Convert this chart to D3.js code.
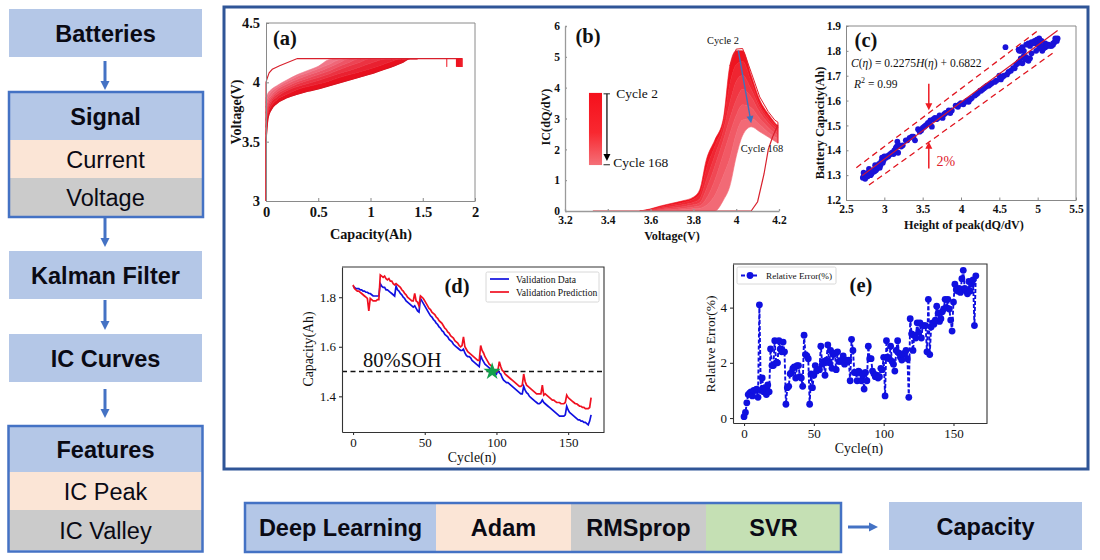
<!DOCTYPE html>
<html>
<head>
<meta charset="utf-8">
<script src="https://cdn.jsdelivr.net/npm/d3@7"></script>
<style>
  html, body { margin: 0; padding: 0; background: #fff; }
  svg { display: block; }
</style>
</head>
<body>
<div id="chart"></div>
<script>
// flow diagram labels
var batteriesLabel = "Batteries";
var signalLabels = ["Signal", "Current", "Voltage"];
var kalmanLabel = "Kalman Filter";
var curvesLabel = "IC Curves";
var featureLabels = ["Features", "IC Peak", "IC Valley"];
var methodLabels = ["Deep Learning", "Adam", "RMSprop", "SVR"];
var outputLabel = "Capacity";

// (a) charge curves, voltage read at each capacity
var capacityGrid = [0, 0.02, 0.05, 0.1, 0.2, 0.3, 0.4, 0.5, 0.6, 0.7, 0.8, 0.9, 1.0, 1.1, 1.2, 1.3, 1.38, 1.45];
var voltageCycle2 =   [3.50, 3.70, 3.77, 3.82, 3.87, 3.90, 3.925, 3.945, 3.97, 3.995, 4.02, 4.045, 4.07, 4.10, 4.13, 4.165, 4.2, 4.2];
var voltageCycle25 =  [3.56, 3.73, 3.80, 3.85, 3.90, 3.94, 3.965, 3.985, 4.01, 4.04, 4.065, 4.09, 4.115, 4.145, 4.175, 4.2, 4.2, 4.2];
var voltageCycle50 =  [3.62, 3.76, 3.83, 3.875, 3.93, 3.965, 3.99, 4.015, 4.045, 4.075, 4.10, 4.13, 4.16, 4.19, 4.2, 4.2, 4.2, 4.2];
var voltageCycle75 =  [3.68, 3.79, 3.85, 3.895, 3.945, 3.985, 4.015, 4.04, 4.07, 4.105, 4.14, 4.17, 4.2, 4.2, 4.2, 4.2, 4.2, 4.2];
var voltageCycle100 = [3.74, 3.82, 3.87, 3.915, 3.965, 4.005, 4.035, 4.065, 4.095, 4.135, 4.17, 4.2, 4.2, 4.2, 4.2, 4.2, 4.2, 4.2];
var voltageCycle125 = [3.79, 3.85, 3.89, 3.935, 3.985, 4.025, 4.06, 4.09, 4.125, 4.165, 4.2, 4.2, 4.2, 4.2, 4.2, 4.2, 4.2, 4.2];
var voltageCycle150 = [3.83, 3.88, 3.92, 3.955, 4.005, 4.05, 4.08, 4.115, 4.15, 4.19, 4.2, 4.2, 4.2, 4.2, 4.2, 4.2, 4.2, 4.2];
var voltageCycle168 = [3.87, 3.91, 3.94, 3.97, 4.02, 4.065, 4.10, 4.135, 4.19, 4.2, 4.2, 4.2, 4.2, 4.2, 4.2, 4.2, 4.2, 4.2];
var firstCycleCap = [0, 0, 0.01, 0.03, 0.06, 0.13, 0.3, 1.88];
var firstCycleVolt = [3, 4.0, 4.03, 4.08, 4.11, 4.14, 4.2, 4.2];
var startCap = [0, 0];
var startVolt = [3, 3.5];
var cycleEndCap = [1.73, 1.825, 1.835, 1.845, 1.855, 1.865, 1.875];

// (b) IC curves, read at each voltage
var voltageGrid = [3.55, 3.6, 3.65, 3.7, 3.75, 3.8, 3.83, 3.86, 3.9, 3.94, 3.97, 4.0, 4.03, 4.07, 4.11, 4.15, 4.195];
var icCycle2 =   [0, 0.07, 0.17, 0.25, 0.33, 0.45, 0.7, 1.65, 2.3, 3.0, 4.7, 5.2, 5.2, 4.4, 3.6, 3.15, 2.75];
var icCycle30 =  [0, 0.05, 0.14, 0.2, 0.27, 0.38, 0.55, 1.35, 2.1, 2.85, 4.1, 4.75, 4.85, 4.2, 3.45, 3.05, 2.7];
var icCycle60 =  [0, 0.03, 0.1, 0.15, 0.2, 0.28, 0.4, 1.0, 1.8, 2.6, 3.5, 4.2, 4.4, 3.95, 3.35, 2.95, 2.65];
var icCycle90 =  [0, 0.01, 0.06, 0.1, 0.14, 0.2, 0.27, 0.7, 1.45, 2.3, 3.0, 3.6, 3.95, 3.7, 3.2, 2.85, 2.55];
var icCycle120 = [0, 0, 0.03, 0.05, 0.08, 0.13, 0.17, 0.4, 1.0, 1.85, 2.5, 3.1, 3.45, 3.35, 3.0, 2.7, 2.45];
var icCycle150 = [0, 0, 0.01, 0.02, 0.04, 0.07, 0.09, 0.18, 0.5, 1.15, 1.7, 2.5, 2.95, 3.0, 2.8, 2.55, 2.35];
var icCycle168 = [0, 0, 0, 0, 0, 0, 0, 0, 0, 0.35, 0.8, 1.76, 2.45, 2.73, 2.57, 2.4, 2.2];
var outlineVolt = [3.97, 4.0, 4.03, 4.07, 4.11, 4.15, 4.18, 4.195, 4.195];
var outlineIC = [4.7, 5.25, 5.27, 4.5, 3.7, 3.22, 2.95, 2.88, 2.2];
var lowCycleVolt = [3.33, 4.07, 4.1, 4.13, 4.15, 4.17, 4.195];
var lowCycleIC = [0, 0, 0.3, 1.2, 2.0, 2.4, 2.8];

// (c) capacity against height of the IC peak
var peakHeight = [2.72, 2.73, 2.74, 2.76, 2.78, 2.8, 2.8, 2.82, 2.84, 2.86, 2.87, 2.88, 2.9, 2.92, 2.93, 2.95, 2.96, 2.97, 2.99, 3.0,
  3.03, 3.06, 3.1, 3.13, 3.15, 3.17, 3.18, 3.2, 3.24, 3.28, 3.33, 3.36, 3.4, 3.44, 3.48, 3.5, 3.54, 3.57, 3.6, 3.62,
  3.64, 3.68, 3.72, 3.76, 3.8, 3.84, 3.88, 3.93, 3.96, 4.0, 4.03, 4.08, 4.1, 4.14, 4.18, 4.22, 4.25, 4.28, 4.32, 4.36,
  4.4, 4.44, 4.5, 4.52, 4.56, 4.6, 4.58, 4.65, 4.68, 4.72, 4.75, 4.78, 4.8, 4.82, 4.85, 4.9, 4.88, 4.75, 4.78, 4.8,
  4.82, 4.85, 4.88, 4.92, 4.96, 5.02, 5.05, 4.92, 4.98, 5.02, 5.06, 5.1, 5.14, 5.18, 5.1, 5.2, 5.23, 5.25, 5.26, 5.22, 5.0,
  2.73, 2.75, 2.77, 2.79, 2.81, 2.83, 2.85, 2.89, 2.91, 2.94, 2.98, 3.02, 3.05, 3.08, 3.12, 3.16, 3.22, 3.3, 3.38, 3.46,
  3.52, 3.56, 3.59, 3.66, 3.7, 3.78, 3.86, 3.98, 4.06, 4.12, 4.2, 4.26, 4.3, 4.34, 4.38, 4.46, 4.54, 4.62, 4.7, 4.74,
  4.84, 4.76, 4.79, 4.9, 4.94, 4.99, 5.03, 5.08, 5.12, 5.16, 5.2, 5.04, 5.24];
var peakCapacity = [1.29, 1.31, 1.29, 1.30, 1.295, 1.305, 1.325, 1.30, 1.31, 1.32, 1.315, 1.34, 1.325, 1.33, 1.345, 1.34, 1.355, 1.37, 1.36, 1.375,
  1.375, 1.38, 1.39, 1.40, 1.41, 1.435, 1.39, 1.42, 1.42, 1.44, 1.45, 1.455, 1.44, 1.485, 1.48, 1.49, 1.50, 1.51, 1.52, 1.495,
  1.525, 1.525, 1.54, 1.53, 1.55, 1.56, 1.56, 1.58, 1.575, 1.59, 1.585, 1.60, 1.595, 1.61, 1.62, 1.63, 1.64, 1.645, 1.655, 1.66,
  1.67, 1.675, 1.70, 1.685, 1.70, 1.705, 1.815, 1.72, 1.73, 1.745, 1.755, 1.77, 1.75, 1.78, 1.775, 1.77, 1.76, 1.805, 1.80, 1.815,
  1.80, 1.825, 1.83, 1.835, 1.84, 1.85, 1.84, 1.79, 1.80, 1.81, 1.80, 1.815, 1.825, 1.82, 1.83, 1.825, 1.85, 1.84, 1.85, 1.835, 1.825,
  1.295, 1.285, 1.30, 1.31, 1.31, 1.305, 1.315, 1.32, 1.335, 1.33, 1.35, 1.37, 1.375, 1.385, 1.385, 1.415, 1.415, 1.44, 1.455, 1.475,
  1.495, 1.505, 1.51, 1.53, 1.53, 1.545, 1.55, 1.585, 1.595, 1.605, 1.625, 1.64, 1.65, 1.66, 1.665, 1.68, 1.695, 1.715, 1.73, 1.75,
  1.765, 1.80, 1.81, 1.82, 1.83, 1.845, 1.84, 1.81, 1.82, 1.82, 1.83, 1.82, 1.845];
var fitHeight = [2.71, 5.26];
var fitCapacity = [1.298, 1.882];
var upperHeight = [2.635, 5.01];
var upperCapacity = [1.33, 1.883];
var lowerHeight = [2.8, 5.22];
var lowerCapacity = [1.26, 1.796];

// (d) validation, one value per cycle from 0
var validationData = [1.845, 1.84, 1.835, 1.835, 1.835, 1.83, 1.83, 1.825, 1.825, 1.82, 1.82, 1.815, 1.815, 1.81, 1.805, 1.805, 1.805, 1.805, 1.805, 1.855,
  1.845, 1.84, 1.84, 1.83, 1.83, 1.825, 1.82, 1.815, 1.81, 1.805, 1.845, 1.83, 1.825, 1.815, 1.81, 1.80, 1.795, 1.785, 1.78, 1.775,
  1.77, 1.765, 1.76, 1.765, 1.755, 1.745, 1.74, 1.795, 1.785, 1.775, 1.765, 1.755, 1.745, 1.735, 1.725, 1.72, 1.71, 1.705, 1.695, 1.69,
  1.68, 1.675, 1.665, 1.66, 1.65, 1.645, 1.64, 1.63, 1.625, 1.62, 1.61, 1.605, 1.60, 1.595, 1.59, 1.585, 1.585, 1.59, 1.575, 1.565,
  1.56, 1.56, 1.555, 1.545, 1.54, 1.535, 1.53, 1.525, 1.52, 1.565, 1.55, 1.54, 1.53, 1.525, 1.52, 1.515, 1.51, 1.505, 1.50, 1.495,
  1.49, 1.505, 1.495, 1.49, 1.475, 1.465, 1.46, 1.455, 1.455, 1.45, 1.445, 1.44, 1.435, 1.43, 1.425, 1.42, 1.415, 1.41, 1.41, 1.44,
  1.425, 1.415, 1.41, 1.40, 1.395, 1.39, 1.385, 1.38, 1.375, 1.37, 1.37, 1.375, 1.385, 1.375, 1.37, 1.365, 1.36, 1.355, 1.35, 1.345,
  1.34, 1.335, 1.33, 1.325, 1.32, 1.32, 1.32, 1.32, 1.325, 1.36, 1.345, 1.335, 1.33, 1.325, 1.32, 1.315, 1.31, 1.305, 1.305, 1.30,
  1.30, 1.295, 1.295, 1.29, 1.285, 1.30, 1.325];
var validationPrediction = [1.85, 1.835, 1.83, 1.825, 1.825, 1.82, 1.815, 1.81, 1.805, 1.80, 1.795, 1.745, 1.795, 1.79, 1.785, 1.785, 1.785, 1.79, 1.79, 1.89,
  1.885, 1.88, 1.885, 1.875, 1.87, 1.875, 1.865, 1.865, 1.855, 1.85, 1.855, 1.85, 1.845, 1.84, 1.83, 1.825, 1.815, 1.81, 1.80, 1.795,
  1.79, 1.785, 1.785, 1.815, 1.785, 1.78, 1.765, 1.805, 1.80, 1.795, 1.785, 1.775, 1.765, 1.755, 1.75, 1.74, 1.735, 1.73, 1.72, 1.715,
  1.705, 1.70, 1.695, 1.685, 1.675, 1.67, 1.66, 1.655, 1.645, 1.64, 1.635, 1.625, 1.62, 1.615, 1.605, 1.60, 1.605, 1.64, 1.60, 1.59,
  1.58, 1.575, 1.57, 1.565, 1.56, 1.555, 1.55, 1.545, 1.545, 1.605, 1.585, 1.575, 1.56, 1.55, 1.54, 1.53, 1.525, 1.52, 1.51, 1.505,
  1.50, 1.505, 1.54, 1.52, 1.505, 1.50, 1.49, 1.485, 1.48, 1.475, 1.47, 1.465, 1.46, 1.455, 1.45, 1.445, 1.44, 1.44, 1.445, 1.49,
  1.46, 1.445, 1.44, 1.435, 1.43, 1.425, 1.42, 1.415, 1.41, 1.41, 1.41, 1.41, 1.445, 1.405, 1.41, 1.405, 1.40, 1.395, 1.39, 1.385,
  1.385, 1.38, 1.375, 1.375, 1.375, 1.37, 1.37, 1.37, 1.375, 1.405, 1.395, 1.39, 1.385, 1.38, 1.375, 1.37, 1.37, 1.365, 1.36, 1.36,
  1.355, 1.355, 1.35, 1.35, 1.35, 1.355, 1.395];
var sohLevel = 1.5;
var sohCycle = 97;

// (e) relative error, one value per cycle from 0
var relativeError = [0.05, 0.2, 0.55, 0.85, 0.9, 0.95, 0.8, 1.0, 1.0, 1.05, 0.75, 4.1, 1.0, 1.45, 0.95, 1.1, 0.85, 1.2, 0.95, 2.5,
  1.9, 1.9, 2.8, 2.0, 2.0, 2.8, 2.5, 2.4, 2.75, 2.4, 0.5, 1.1, 1.15, 1.6, 1.65, 1.8, 1.85, 1.45, 1.9, 1.9,
  1.5, 1.45, 1.15, 3.0, 2.3, 2.25, 2.15, 0.5, 1.6, 1.1, 1.55, 1.9, 1.7, 1.75, 1.75, 2.6, 1.95, 2.05, 1.55, 2.1,
  2.65, 2.0, 2.45, 1.8, 2.3, 2.35, 1.75, 2.4, 2.05, 2.05, 2.1, 2.25, 1.95, 2.1, 2.05, 2.1, 1.35, 2.85, 2.45,
  1.65, 1.65, 1.35, 1.7, 1.65, 1.35, 1.55, 1.05, 1.65, 1.35, 2.6, 2.15, 2.15, 1.7, 1.6, 1.5, 1.55, 1.45, 1.5, 1.8, 1.75,
  2.2, 0.8, 2.8, 2.2, 2.15, 2.6, 2.05, 1.95, 1.7, 2.45, 2.8, 2.35, 2.2, 2.1, 2.3, 2.35, 2.45, 2.15, 0.75, 3.6,
  3.05, 2.45, 3.0, 2.9, 3.45, 3.1, 3.45, 2.9, 3.35, 3.35, 3.35, 2.4, 4.3, 2.3, 3.3, 3.45, 3.4, 3.55, 4.05, 3.8,
  3.5, 3.6, 3.85, 3.95, 4.3, 4.0, 4.3, 3.95, 3.55, 3.15, 4.2, 4.85, 4.65, 4.6, 4.7, 4.55, 5.05, 5.35, 4.7, 4.6,
  4.5, 4.95, 4.6, 4.85, 5.0, 3.35, 5.15];

var width = 1100;
var height = 560;
var sansFont = "'Liberation Sans', Arial, sans-serif";
var serifFont = "'Liberation Serif', 'Times New Roman', serif";

var svg = d3.select("#chart").append("svg")
  .attr("width", width)
  .attr("height", height)
  .style("background", "#fff");

var defs = svg.append("defs");

function addText(parent, x, y, str, size, opts) {
  opts = opts || {};
  var t = parent.append("text")
    .attr("x", x)
    .attr("y", y)
    .attr("font-family", opts.family || serifFont)
    .attr("font-size", size)
    .attr("font-weight", opts.weight || "normal")
    .attr("font-style", opts.style || "normal")
    .attr("fill", opts.fill || "#111")
    .attr("text-anchor", opts.anchor || "middle")
    .text(str);
  if (opts.rotate) t.attr("transform", "rotate(-90," + x + "," + y + ")");
  return t;
}

// ---------- flow boxes ----------
var flowBlue = "#b4c7e7";
var flowPeach = "#fbe5d6";
var flowGrey = "#cbcbcb";
var flowGreen = "#c5e0b4";
var frameBlue = "#4472c4";

function flowBox(x, y, w, h, fill, label, bold) {
  svg.append("rect").attr("x", x).attr("y", y).attr("width", w).attr("height", h).attr("fill", fill);
  addText(svg, x + w / 2, y + h / 2 + 8.5, label, 23.5, {family: sansFont, weight: bold ? "bold" : "normal", fill: "#0a0a14"});
}

function flowFrame(x, y, w, h) {
  svg.append("rect").attr("x", x).attr("y", y).attr("width", w).attr("height", h)
    .attr("fill", "none").attr("stroke", frameBlue).attr("stroke-width", 2.5);
}

function flowArrow(x1, y1, x2, y2) {
  var horizontal = y1 === y2;
  svg.append("line").attr("x1", x1).attr("y1", y1)
    .attr("x2", horizontal ? x2 - 6 : x2).attr("y2", horizontal ? y2 : y2 - 6)
    .attr("stroke", frameBlue).attr("stroke-width", 3);
  var head = horizontal
    ? [[x2, y2], [x2 - 9, y2 - 4.5], [x2 - 9, y2 + 4.5]]
    : [[x2, y2], [x2 - 4.5, y2 - 9], [x2 + 4.5, y2 - 9]];
  svg.append("path").attr("d", d3.line()(head) + "Z").attr("fill", frameBlue);
}

flowBox(9, 9, 193, 48, flowBlue, batteriesLabel, true);
flowBox(9, 92, 193, 48, flowBlue, signalLabels[0], true);
flowBox(9, 140, 193, 38, flowPeach, signalLabels[1], false);
flowBox(9, 178, 193, 39, flowGrey, signalLabels[2], false);
flowFrame(9, 92, 194, 125);
flowBox(9, 251, 193, 48, flowBlue, kalmanLabel, true);
flowBox(9, 334, 193, 48, flowBlue, curvesLabel, true);
flowBox(9, 426, 193, 46, flowBlue, featureLabels[0], true);
flowBox(9, 472, 193, 38, flowPeach, featureLabels[1], false);
flowBox(9, 510, 193, 40, flowGrey, featureLabels[2], false);
flowFrame(8.5, 426, 194, 125.5);
flowArrow(105, 61, 105, 90);
flowArrow(105, 218, 105, 247);
flowArrow(105, 300, 105, 330);
flowArrow(105, 389, 105, 418);

var methodStops = [245, 436, 571, 706, 841];
var methodFills = [flowBlue, flowPeach, flowGrey, flowGreen];
methodLabels.forEach(function(label, i) {
  flowBox(methodStops[i], 503, methodStops[i + 1] - methodStops[i], 49, methodFills[i], label, true);
});
flowFrame(245, 503, 596, 49);
flowArrow(848, 527, 878, 527);
flowBox(889, 502, 193, 48, flowBlue, outputLabel, true);

// main frame round the plots
svg.append("rect").attr("x", 224).attr("y", 7).attr("width", 864).attr("height", 462)
  .attr("fill", "none").attr("stroke", "#2f5597").attr("stroke-width", 3);

// ---------- axes helper ----------
function drawAxes(x, y, xTicks, yTicks, opts) {
  var xr = x.range(), yr = y.range();
  var tick = opts.tick;
  var gx = svg.append("g").attr("transform", "translate(0," + yr[0] + ")")
    .call(d3.axisBottom(x).tickValues(xTicks).tickSizeInner(tick).tickSizeOuter(0).tickPadding(opts.pad).tickFormat(d3.format(opts.xFormat || "")));
  var gy = svg.append("g").attr("transform", "translate(" + xr[0] + ",0)")
    .call(d3.axisLeft(y).tickValues(yTicks).tickSizeInner(tick).tickSizeOuter(0).tickPadding(opts.pad).tickFormat(d3.format(opts.yFormat || "")));
  [gx, gy].forEach(function(g) {
    g.selectAll("path,line").attr("stroke", opts.color).attr("stroke-width", opts.line || 1);
    g.selectAll("text").attr("font-family", serifFont).attr("font-size", opts.size)
      .attr("font-weight", opts.weight).attr("fill", "#111");
  });
  if (opts.box) {
    svg.append("path")
      .attr("d", "M" + xr[0] + "," + yr[1] + "H" + xr[1] + "V" + yr[0])
      .attr("fill", "none").attr("stroke", opts.color).attr("stroke-width", opts.line || 1);
  }
}

function xyLine(x, y, curve) {
  var l = d3.line().x(function(d) { return x(d[0]); }).y(function(d) { return y(d[1]); });
  return curve ? l.curve(curve) : l;
}

function bands(x, y, grid, cycles, color) {
  var area = d3.area()
    .x(function(d) { return x(d.x); })
    .y0(function(d) { return y(d.a); })
    .y1(function(d) { return y(d.b); })
    .curve(d3.curveMonotoneX);
  d3.pairs(cycles).forEach(function(p, i) {
    var rows = grid.map(function(g, k) { return {x: g, a: p[0][k], b: p[1][k]}; });
    var c = color(i / (cycles.length - 2));
    svg.append("path").attr("d", area(rows)).attr("fill", c).attr("stroke", c).attr("stroke-width", 0.6);
  });
}

function redArrow(x1, y1, x2, y2, color, w, head) {
  var a = Math.atan2(y2 - y1, x2 - x1);
  svg.append("line").attr("x1", x1).attr("y1", y1)
    .attr("x2", x2 - Math.cos(a) * head * 0.8).attr("y2", y2 - Math.sin(a) * head * 0.8)
    .attr("stroke", color).attr("stroke-width", w);
  var pts = [[x2, y2],
    [x2 - head * Math.cos(a) + head * 0.5 * Math.sin(a), y2 - head * Math.sin(a) - head * 0.5 * Math.cos(a)],
    [x2 - head * Math.cos(a) - head * 0.5 * Math.sin(a), y2 - head * Math.sin(a) + head * 0.5 * Math.cos(a)]];
  svg.append("path").attr("d", d3.line()(pts) + "Z").attr("fill", color);
}

// ---------- (a) ----------
var xA = d3.scaleLinear().domain([0, 2]).range([266, 475]);
var yA = d3.scaleLinear().domain([3, 4.5]).range([201, 23]);
var chargeColor = d3.interpolateRgb("#e8101e", "#f0788a");
bands(xA, yA, capacityGrid,
  [voltageCycle2, voltageCycle25, voltageCycle50, voltageCycle75, voltageCycle100, voltageCycle125, voltageCycle150, voltageCycle168],
  chargeColor);
svg.append("path").attr("d", xyLine(xA, yA, d3.curveMonotoneX)(d3.zip(capacityGrid, voltageCycle2)))
  .attr("fill", "none").attr("stroke", "#d81420").attr("stroke-width", 1.2);
svg.append("path").attr("d", xyLine(xA, yA)(d3.zip(firstCycleCap, firstCycleVolt)))
  .attr("fill", "none").attr("stroke", "#d8202c").attr("stroke-width", 1.1);
svg.append("path").attr("d", xyLine(xA, yA)(d3.zip(startCap, startVolt)))
  .attr("fill", "none").attr("stroke", "#d8202c").attr("stroke-width", 1.4);
svg.selectAll(".cycle-end").data(cycleEndCap).enter().append("line")
  .attr("class", "cycle-end")
  .attr("x1", function(d) { return xA(d); })
  .attr("x2", function(d) { return xA(d); })
  .attr("y1", yA(4.2))
  .attr("y2", yA(4.13))
  .attr("stroke", "#ee1420")
  .attr("stroke-width", function(d, i) { return i === 0 ? 1 : 1.6; });
drawAxes(xA, yA, [0, 0.5, 1, 1.5, 2], [3, 3.5, 4, 4.5], {tick: -3, pad: 6, color: "#8a8a8a", box: true, size: 14.5, weight: "bold"});
addText(svg, 371, 239, "Capacity(Ah)", 14.2, {weight: "bold"});
addText(svg, 241, 112, "Voltage(V)", 14.2, {weight: "bold", rotate: true});
addText(svg, 285, 45, "(a)", 20.5, {weight: "bold"});

// ---------- (b) ----------
var xB = d3.scaleLinear().domain([3.2, 4.2]).range([565, 779]);
var yB = d3.scaleLinear().domain([0, 6]).range([211, 26]);
var icColor = d3.interpolateRgb("#ee1420", "#f26a76");
bands(xB, yB, voltageGrid, [icCycle2, icCycle30, icCycle60, icCycle90, icCycle120, icCycle150, icCycle168], icColor);
svg.append("path").attr("d", xyLine(xB, yB)(d3.zip(outlineVolt, outlineIC)))
  .attr("fill", "none").attr("stroke", "#e0202c").attr("stroke-width", 1);
svg.append("path").attr("d", xyLine(xB, yB)(d3.zip(lowCycleVolt, lowCycleIC)))
  .attr("fill", "none").attr("stroke", "#d8202c").attr("stroke-width", 1.2);
drawAxes(xB, yB, [3.2, 3.4, 3.6, 3.8, 4, 4.2], [0, 1, 2, 3, 4, 5, 6], {tick: -2, pad: 5, color: "#9a9a9a", size: 11.5, weight: "bold", line: 1.3});
addText(svg, 672, 240, "Voltage(V)", 12.2, {weight: "bold"});
addText(svg, 550, 117, "IC(dQ/dV)", 12.2, {weight: "bold", rotate: true});
addText(svg, 588, 43, "(b)", 20.5, {weight: "bold"});

var colorBar = defs.append("linearGradient").attr("id", "cycleBar").attr("x1", 0).attr("x2", 0).attr("y1", 0).attr("y2", 1);
colorBar.append("stop").attr("offset", "0%").attr("stop-color", "#f5101c");
colorBar.append("stop").attr("offset", "55%").attr("stop-color", "#f82830");
colorBar.append("stop").attr("offset", "100%").attr("stop-color", "#f47078");
svg.append("rect")
  .attr("x", xB(3.312)).attr("y", yB(3.83))
  .attr("width", xB(3.373) - xB(3.312))
  .attr("height", yB(1.49) - yB(3.83))
  .attr("fill", "url(#cycleBar)");
redArrow(xB(3.396), yB(3.8), xB(3.396), yB(1.62), "#000", 1.2, 7);
svg.append("line").attr("x1", xB(3.38)).attr("x2", xB(3.41)).attr("y1", yB(3.8)).attr("y2", yB(3.8)).attr("stroke", "#222");
svg.append("line").attr("x1", xB(3.38)).attr("x2", xB(3.41)).attr("y1", yB(1.5)).attr("y2", yB(1.5)).attr("stroke", "#222");
addText(svg, xB(3.44), 98, "Cycle 2", 13.5, {anchor: "start"});
addText(svg, xB(3.425), 167, "Cycle 168", 13.5, {anchor: "start"});
addText(svg, 723, 44, "Cycle 2", 10.4);
addText(svg, 762, 152, "Cycle 168", 10.4);
redArrow(xB(4.01), yB(5.2), xB(4.07), yB(2.85), "#3f72bd", 1.4, 7);

// ---------- (c) ----------
var xC = d3.scaleLinear().domain([2.5, 5.5]).range([846, 1076]);
var yC = d3.scaleLinear().domain([1.2, 1.9]).range([200, 26]);
svg.selectAll(".peak").data(d3.zip(peakHeight, peakCapacity)).enter().append("circle")
  .attr("class", "peak")
  .attr("cx", function(d) { return xC(d[0]); })
  .attr("cy", function(d) { return yC(d[1]); })
  .attr("r", 2.9)
  .attr("fill", "#1a12d8");
svg.append("path").attr("d", xyLine(xC, yC)(d3.zip(fitHeight, fitCapacity)))
  .attr("stroke", "#d8182c").attr("stroke-width", 1.2).attr("fill", "none");
[[upperHeight, upperCapacity], [lowerHeight, lowerCapacity]].forEach(function(p) {
  svg.append("path").attr("d", xyLine(xC, yC)(d3.zip(p[0], p[1])))
    .attr("stroke", "#e0141e").attr("stroke-width", 1.3).attr("stroke-dasharray", "6 4").attr("fill", "none");
});
drawAxes(xC, yC, [2.5, 3, 3.5, 4, 4.5, 5, 5.5], [1.2, 1.3, 1.4, 1.5, 1.6, 1.7, 1.8, 1.9], {tick: -2.5, pad: 5, color: "#888", box: true, size: 11.5, weight: "bold", yFormat: ".1f"});
addText(svg, 964, 229, "Height of peak(dQ/dV)", 12.2, {weight: "bold"});
addText(svg, 824, 123, "Battery Capacity(Ah)", 12.2, {weight: "bold", rotate: true});
addText(svg, 866, 47, "(c)", 20.5, {weight: "bold"});
var eqn = addText(svg, 851, 67, "", 11.5, {anchor: "start"});
eqn.append("tspan").attr("font-style", "italic").text("C");
eqn.append("tspan").text("(");
eqn.append("tspan").attr("font-style", "italic").text("η");
eqn.append("tspan").text(") = 0.2275");
eqn.append("tspan").attr("font-style", "italic").text("H");
eqn.append("tspan").text("(");
eqn.append("tspan").attr("font-style", "italic").text("η");
eqn.append("tspan").text(") + 0.6822");
var r2 = addText(svg, 854, 88, "", 11.5, {anchor: "start"});
r2.append("tspan").attr("font-style", "italic").text("R");
r2.append("tspan").attr("font-size", 8).attr("dy", -5).text("2");
r2.append("tspan").attr("dy", 5).text(" = 0.99");
redArrow(xC(3.58), yC(1.668), xC(3.58), yC(1.561), "#ee1c24", 1.5, 7);
redArrow(xC(3.58), yC(1.327), xC(3.58), yC(1.434), "#ee1c24", 1.5, 7);
addText(svg, xC(3.68), 166, "2%", 14, {anchor: "start", fill: "#e0202c"});

// ---------- (d) ----------
var xD = d3.scaleLinear().domain([-7.7, 175]).range([342, 604]);
var yD = d3.scaleLinear().domain([1.256, 1.922]).range([432, 267]);
function cyclePoints(values) {
  return values.map(function(v, i) { return [i, v]; });
}
svg.append("line").attr("x1", xD.range()[0]).attr("x2", xD.range()[1]).attr("y1", yD(sohLevel)).attr("y2", yD(sohLevel))
  .attr("stroke", "#111").attr("stroke-width", 1.4).attr("stroke-dasharray", "5 3.5");
svg.append("path").attr("d", xyLine(xD, yD)(cyclePoints(validationData)))
  .attr("fill", "none").attr("stroke", "#1010e0").attr("stroke-width", 1.7);
svg.append("path").attr("d", xyLine(xD, yD)(cyclePoints(validationPrediction)))
  .attr("fill", "none").attr("stroke", "#f01020").attr("stroke-width", 1.7);
svg.append("path")
  .attr("d", d3.symbol().type(d3.symbolStar).size(95)())
  .attr("transform", "translate(" + xD(sohCycle) + "," + yD(sohLevel) + ")")
  .attr("fill", "#12a04c");
drawAxes(xD, yD, [0, 50, 100, 150], [1.4, 1.6, 1.8], {tick: 3, pad: 3, color: "#333", box: true, size: 13, weight: "normal", line: 1.1, yFormat: ".1f"});
addText(svg, 472, 462, "Cycle(n)", 13.8);
addText(svg, 313, 349, "Capacity(Ah)", 13.8, {rotate: true});
addText(svg, 363, 367, "80%SOH", 20.5, {anchor: "start"});
addText(svg, 457, 293, "(d)", 20.5, {weight: "bold"});
svg.append("rect").attr("x", 486).attr("y", 272).attr("width", 113).attr("height", 30).attr("rx", 1.5)
  .attr("fill", "#fff").attr("stroke", "#d8d8d8");
svg.append("line").attr("x1", 490).attr("x2", 509).attr("y1", 279).attr("y2", 279).attr("stroke", "#1010e0").attr("stroke-width", 1.7);
svg.append("line").attr("x1", 490).attr("x2", 509).attr("y1", 292).attr("y2", 292).attr("stroke", "#f01020").attr("stroke-width", 1.7);
addText(svg, 516, 282.5, "Validation Data", 9.6, {anchor: "start"});
addText(svg, 516, 296, "Validation Prediction", 9.6, {anchor: "start"});

// ---------- (e) ----------
var xE = d3.scaleLinear().domain([-7.9, 174]).range([733, 987]);
var yE = d3.scaleLinear().domain([-0.18, 5.58]).range([423, 264]);
svg.append("path").attr("d", xyLine(xE, yE)(cyclePoints(relativeError)))
  .attr("fill", "none").attr("stroke", "#1010e0").attr("stroke-width", 1.9).attr("stroke-dasharray", "4 2");
svg.selectAll(".error-dot").data(cyclePoints(relativeError)).enter().append("circle")
  .attr("class", "error-dot")
  .attr("cx", function(d) { return xE(d[0]); })
  .attr("cy", function(d) { return yE(d[1]); })
  .attr("r", 3.4)
  .attr("fill", "#1010e0");
drawAxes(xE, yE, [0, 50, 100, 150], [0, 2, 4], {tick: 3, pad: 3, color: "#333", box: true, size: 13, weight: "normal", line: 1.1});
addText(svg, 859, 453, "Cycle(n)", 13.8);
addText(svg, 715, 344, "Relative Error(%)", 13.5, {rotate: true});
addText(svg, 861, 292, "(e)", 20.5, {weight: "bold"});
svg.append("rect").attr("x", 737).attr("y", 267).attr("width", 99).attr("height", 17).attr("rx", 1.5)
  .attr("fill", "#fff").attr("stroke", "#d8d8d8");
svg.append("line").attr("x1", 741).attr("x2", 759).attr("y1", 275.5).attr("y2", 275.5)
  .attr("stroke", "#1010e0").attr("stroke-width", 1.9).attr("stroke-dasharray", "4 2");
svg.append("circle").attr("cx", 750).attr("cy", 275.5).attr("r", 3.4).attr("fill", "#1010e0");
addText(svg, 766, 278.5, "Relative Error(%)", 9.2, {anchor: "start"});
</script>
</body>
</html>
